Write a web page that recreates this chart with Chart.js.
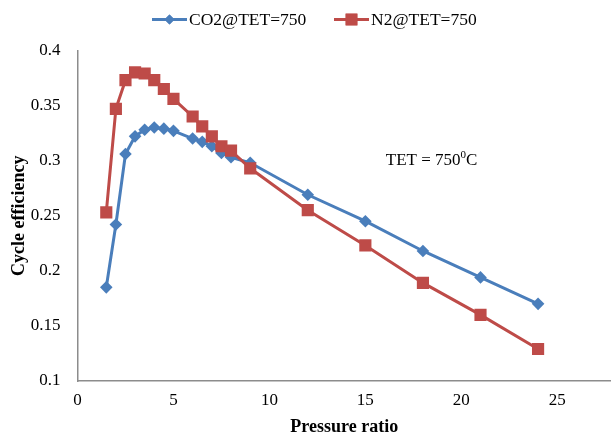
<!DOCTYPE html>
<html>
<head>
<meta charset="utf-8">
<script src="https://cdn.jsdelivr.net/npm/chart.js@4/dist/chart.umd.min.js"></script>
<style>
  html, body { margin: 0; padding: 0; background: #fff; }
  #wrap { width: 611px; height: 439px; }
</style>
</head>
<body>
<div id="wrap"><canvas id="chart" width="611" height="439"></canvas></div>
<script>
// pressure ratios sampled in the study
const pressureRatio = [1.5, 2, 2.5, 3, 3.5, 4, 4.5, 5, 6, 6.5, 7, 7.5, 8, 9, 12, 15, 18, 21, 24];
// cycle efficiency at TET = 750
const co2Eff = [0.185, 0.242, 0.306, 0.322, 0.328, 0.330, 0.329, 0.327, 0.320, 0.317, 0.313, 0.307, 0.303, 0.298, 0.269, 0.245, 0.218, 0.194, 0.170];
const n2Eff  = [0.253, 0.347, 0.373, 0.380, 0.379, 0.373, 0.365, 0.356, 0.340, 0.331, 0.322, 0.313, 0.309, 0.293, 0.255, 0.223, 0.189, 0.160, 0.129];

const seriesNames = ['CO2@TET=750', 'N2@TET=750'];
const xTicks = [0, 5, 10, 15, 20, 25];
const yTicks = [0.1, 0.15, 0.2, 0.25, 0.3, 0.35, 0.4];
const noteText = 'TET = 750';
const noteAt = { x: 18.45, y: 0.3 };

const BLUE = '#4A7EBB';
const RED = '#BE4B48';
const AXIS = '#8c8c8c';
const FONT = "'Liberation Serif', 'Times New Roman', serif";

const toPoints = ys => pressureRatio.map((x, i) => ({ x: x, y: ys[i] }));

// legend drawn by hand: Excel style line with marker in the middle
const legendPlugin = {
    id: 'excelLegend',
    afterDraw(chart) {
        const ctx = chart.ctx;
        const y = 19.5;
        const items = [
            { x: 152, color: BLUE, style: 'rectRot', r: 5, label: seriesNames[0] },
            { x: 334, color: RED, style: 'rect', r: 8.3, label: seriesNames[1] }
        ];
        ctx.save();
        ctx.font = '17.5px ' + FONT;
        ctx.textBaseline = 'middle';
        ctx.textAlign = 'left';
        items.forEach(it => {
            ctx.strokeStyle = it.color;
            ctx.lineWidth = 3;
            ctx.beginPath();
            ctx.moveTo(it.x, y);
            ctx.lineTo(it.x + 35, y);
            ctx.stroke();
            ctx.fillStyle = it.color;
            Chart.helpers.drawPoint(ctx, { pointStyle: it.style, radius: it.r, borderWidth: 0 }, it.x + 17.5, y);
            ctx.fill();
            ctx.fillStyle = '#000';
            ctx.fillText(it.label, it.x + 37, y + 1);
        });
        ctx.restore();
    }
};

// "TET = 750°C" note inside the plot
const notePlugin = {
    id: 'tetNote',
    afterDraw(chart) {
        const ctx = chart.ctx;
        const px = chart.scales.x.getPixelForValue(noteAt.x);
        const py = chart.scales.y.getPixelForValue(noteAt.y);
        ctx.save();
        ctx.fillStyle = '#000';
        ctx.textBaseline = 'middle';
        ctx.font = '17px ' + FONT;
        const w1 = ctx.measureText(noteText).width;
        ctx.font = '11px ' + FONT;
        const w2 = ctx.measureText('0').width;
        ctx.font = '17px ' + FONT;
        const w3 = ctx.measureText('C').width;
        let x = px - (w1 + w2 + w3) / 2;
        ctx.textAlign = 'left';
        ctx.fillText(noteText, x, py);
        x += w1;
        ctx.font = '11px ' + FONT;
        ctx.fillText('0', x, py - 5);
        x += w2;
        ctx.font = '17px ' + FONT;
        ctx.fillText('C', x, py);
        ctx.restore();
    }
};

new Chart(document.getElementById('chart'), {
    type: 'scatter',
    data: {
        datasets: [
            {
                label: seriesNames[0],
                data: toPoints(co2Eff),
                showLine: true,
                borderColor: BLUE,
                backgroundColor: BLUE,
                borderWidth: 3,
                pointStyle: 'rectRot',
                pointRadius: 6.3,
                pointBorderWidth: 0,
                order: 1
            },
            {
                label: seriesNames[1],
                data: toPoints(n2Eff),
                showLine: true,
                borderColor: RED,
                backgroundColor: RED,
                borderWidth: 3,
                pointStyle: 'rect',
                pointRadius: 8.6,
                pointBorderWidth: 0,
                order: 0
            }
        ]
    },
    options: {
        responsive: false,
        animation: false,
        layout: { autoPadding: false, padding: { top: 50.4, right: 0, left: 0, bottom: 0 } },
        plugins: {
            legend: { display: false },
            tooltip: { enabled: false }
        },
        scales: {
            x: {
                type: 'linear',
                min: 0,
                max: 27.8,
                afterBuildTicks: axis => { axis.ticks = xTicks.map(v => ({ value: v })); },
                afterFit: axis => {
                    axis.height = 58;
                    axis.paddingRight = 0;
                    axis.paddingLeft = 0;
                },
                grid: { display: false, drawOnChartArea: false, tickLength: 5, color: AXIS, tickColor: AXIS },
                border: { color: AXIS, width: 1.5 },
                ticks: {
                    color: '#000',
                    padding: 4,
                    maxRotation: 0,
                    font: { family: FONT, size: 17 },
                    callback: v => String(v)
                },
                title: {
                    display: true,
                    text: 'Pressure ratio',
                    color: '#000',
                    font: { family: FONT, size: 18, weight: 'bold' },
                    padding: { top: 0, bottom: 1 }
                }
            },
            y: {
                min: 0.1,
                max: 0.4,
                afterBuildTicks: axis => { axis.ticks = yTicks.map(v => ({ value: v })); },
                afterFit: axis => { axis.width = 77.5; },
                grid: { display: false, drawOnChartArea: false, tickLength: 6, color: AXIS, tickColor: AXIS },
                border: { color: AXIS, width: 1.5 },
                ticks: {
                    color: '#000',
                    padding: 11,
                    font: { family: FONT, size: 17 },
                    callback: v => String(v)
                },
                title: {
                    display: true,
                    text: 'Cycle efficiency',
                    color: '#000',
                    font: { family: FONT, size: 18, weight: 'bold' },
                    padding: { top: 9, bottom: 0 }
                }
            }
        }
    },
    plugins: [legendPlugin, notePlugin]
});
</script>
</body>
</html>
